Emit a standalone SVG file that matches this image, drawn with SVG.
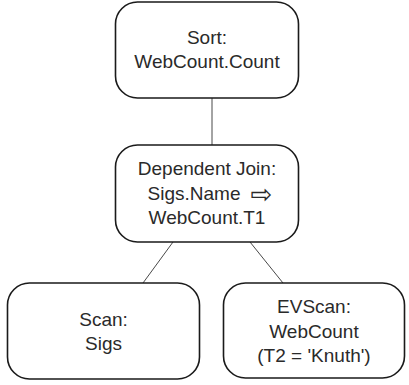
<svg xmlns="http://www.w3.org/2000/svg" width="409" height="385" viewBox="0 0 409 385">
<style>
.box{fill:#fff;stroke:#1a1a1a;stroke-width:1.6}
.t{font-family:"Liberation Sans",Arial,sans-serif;font-size:19px;fill:#2a2a2a;text-anchor:middle}
.c{stroke:#333;stroke-width:0.9;fill:none}
</style>
<rect width="409" height="385" fill="#fff"/>
<g id="connectors">
<line class="c" x1="212" y1="98" x2="212" y2="145"/>
<line class="c" x1="173" y1="242" x2="143" y2="283"/>
<line class="c" x1="250" y1="242" x2="283" y2="283"/>
</g>
<g id="sort">
<rect class="box" x="115.5" y="2" width="183" height="96" rx="22"/>
<text class="t" x="207" y="44">Sort:</text>
<text class="t" x="207" y="68">WebCount.Count</text>
</g>
<g id="join">
<rect class="box" x="115.5" y="145" width="183" height="97" rx="22"/>
<text class="t" x="207" y="175">Dependent Join:</text>
<text class="t" x="194" y="200">Sigs.Name</text>
<text class="t" x="261.5" y="203" style="font-family:'DejaVu Sans',sans-serif;font-size:26px">⇨</text>
<text class="t" x="207" y="224">WebCount.T1</text>
</g>
<g id="scan">
<rect class="box" x="7.5" y="283" width="192" height="96" rx="22"/>
<text class="t" x="103.5" y="326">Scan:</text>
<text class="t" x="103.5" y="350">Sigs</text>
</g>
<g id="evscan">
<rect class="box" x="223.5" y="283" width="181" height="95" rx="22"/>
<text class="t" x="314" y="313">EVScan:</text>
<text class="t" x="314" y="338">WebCount</text>
<text class="t" x="314" y="362">(T2 = 'Knuth')</text>
</g>
</svg>
